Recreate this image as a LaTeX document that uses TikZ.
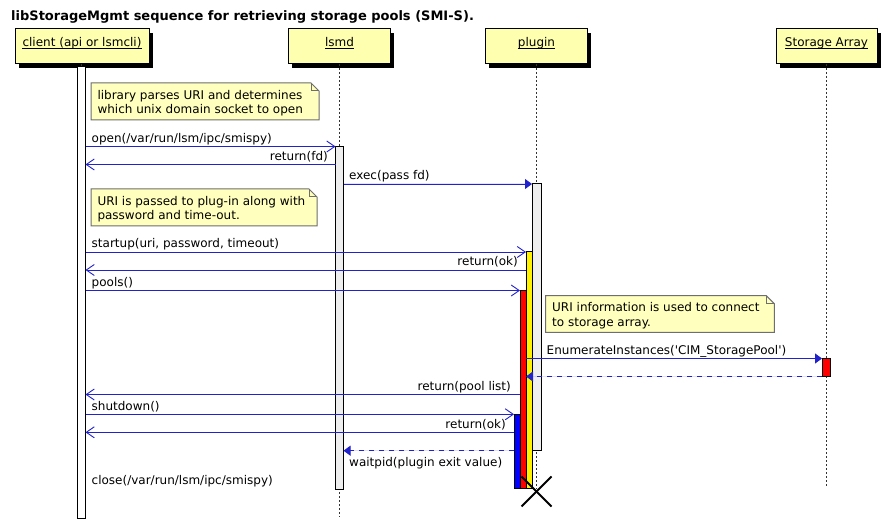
\documentclass[tikz,border=0pt]{standalone}
\usepackage{fontspec}
\setmainfont{DejaVu Sans}
\usetikzlibrary{arrows.meta}
\definecolor{msgblue}{RGB}{34,34,204}
\definecolor{partfill}{RGB}{255,255,176}
\definecolor{notefill}{RGB}{255,255,190}
\definecolor{notedraw}{RGB}{110,110,110}
\definecolor{actgray}{RGB}{238,238,238}
\tikzset{
  lbl/.style={inner sep=0pt, font=\fontsize{12bp}{14.5bp}\selectfont},
  titlelbl/.style={inner sep=0pt, font=\bfseries\fontsize{13bp}{15bp}\selectfont},
  msg/.style={draw=msgblue, line width=0.9bp},
  openhead/.style={-{Straight Barb[length=8bp,width=11bp,line width=0.9bp]}},
  fillhead/.style={-{Triangle[length=7bp,width=10bp]}},
  dashmsg/.style={dash pattern=on 5bp off 5bp},
  partbox/.style={draw=black, fill=partfill, line width=1bp},
  partshadow/.style={fill=black},
  lifeline/.style={draw=black!80, line width=0.8bp, dash pattern=on 2bp off 2bp},
  actbar/.style={draw=black, line width=1bp},
  notebox/.style={draw=notedraw, fill=notefill, line width=1bp},
  ulinepart/.style={draw=black, line width=0.8bp},
  killmark/.style={draw=black, line width=2bp}
}
\newcommand\notebg[4]{% x1,y1,x2,y2
  \path[notebox] (#1,#2) -- ({#3-8},#2) -- (#3,{#2+8}) -- (#3,#4) -- (#1,#4) -- cycle;
  \draw[notebox, fill=none] ({#3-8},#2) -- ({#3-8},{#2+8}) -- (#3,{#2+8});
}
\newcommand\partic[6]{% name, x1, x2, centre x, text, (unused)
  \fill[partshadow] ({#2+4},33) rectangle ({#3+4},68);
  \path[partbox] (#2,29) rectangle (#3,64);
  \node[lbl, anchor=base] (#1) at (#4,47) {#5};
  \draw[ulinepart] ([yshift=-1.7bp]#1.base west) -- ([yshift=-1.7bp]#1.base east);
}
\begin{document}
\begin{tikzpicture}[x=1bp,y=-1bp]
\useasboundingbox (0,0) rectangle (888,523);
\fill[white] (0,0) rectangle (888,523);

% title
\node[titlelbl, anchor=base west] (title) at (11,21) {libStorageMgmt sequence for retrieving storage pools (SMI-S).};

% participants
\partic{client}{15}{149}{82}{client (api or lsmcli)\ }{}
\partic{lsmd}{288}{390}{339.5}{lsmd}{}
\partic{plugin}{485}{587}{536.5}{plugin}{}
\partic{storage}{776}{877}{826.5}{Storage Array\ }{}

% lifelines
\coordinate (cltop) at (81.5,64);  \coordinate (clbot) at (81.5,518);
\coordinate (lstop) at (339.5,64); \coordinate (lsbot) at (339.5,517);
\coordinate (pltop) at (536.5,64); \coordinate (plbot) at (536.5,489);
\coordinate (sttop) at (826.5,64); \coordinate (stbot) at (826.5,488);
\draw[lifeline] (cltop) -- (clbot);
\draw[lifeline] (lstop) -- (lsbot);
\draw[lifeline] (pltop) -- (plbot);
\draw[lifeline] (sttop) -- (stbot);

% notes
\notebg{91}{83}{319}{120}
\node[lbl, anchor=base west] (n1a) at (97.3,99.3) {library parses URI and determines};
\node[lbl, anchor=base west] (n1b) at (97.3,114) {which unix domain socket to open};
\notebg{91}{189}{317}{226}
\node[lbl, anchor=base west] (n2a) at (97.3,205.3) {URI is passed to plug-in along with};
\node[lbl, anchor=base west] (n2b) at (97.3,220) {password and time-out.};
\notebg{545.7}{295.7}{774.3}{332.3}
\node[lbl, anchor=base west] (n3a) at (552,312) {URI information is used to connect};
\node[lbl, anchor=base west] (n3b) at (552,326.7) {to storage array.};

% activation bars
\path[actbar, fill=white] (77.5,67) rectangle (85.5,518);
\path[actbar, fill=actgray] (335.5,147) rectangle (343.5,489);
\path[actbar, fill=actgray] (532,184) rectangle (541,450.7);
\path[actbar, fill=yellow] (526,252) rectangle (532,488);
\path[actbar, fill=red] (520,290.5) rectangle (526,488);
\path[actbar, fill=blue] (514,414.3) rectangle (520,488);
\path[actbar, fill=red] (822,358.5) rectangle (830.5,376.5);

% messages
\coordinate (m1a) at (85.5,146.5); \coordinate (m1b) at (335.5,146.5);
\draw[msg, openhead] (m1a) -- (m1b);
\node[lbl, anchor=base west] (m1l) at (91.5,142.5) {open(/var/run/lsm/ipc/smispy)};

\coordinate (m2a) at (335.5,164.5); \coordinate (m2b) at (85.5,164.5);
\draw[msg, openhead] (m2a) -- (m2b);
\node[lbl, anchor=base east] (m2l) at (328,160.5) {return(fd)};

\coordinate (m3a) at (343.5,184); \coordinate (m3b) at (532,184);
\draw[msg, fillhead, fill=msgblue] (m3a) -- (m3b);
\node[lbl, anchor=base west] (m3l) at (349,180) {exec(pass fd)};

\coordinate (m4a) at (85.5,252); \coordinate (m4b) at (526,252);
\draw[msg, openhead] (m4a) -- (m4b);
\node[lbl, anchor=base west] (m4l) at (91.5,248) {startup(uri, password, timeout)};

\coordinate (m5a) at (526,270); \coordinate (m5b) at (85.5,270);
\draw[msg, openhead] (m5a) -- (m5b);
\node[lbl, anchor=base east] (m5l) at (518,266) {return(ok)};

\coordinate (m6a) at (85.5,290.5); \coordinate (m6b) at (520,290.5);
\draw[msg, openhead] (m6a) -- (m6b);
\node[lbl, anchor=base west] (m6l) at (91.5,286.5) {pools()};

\coordinate (m7a) at (526,358.5); \coordinate (m7b) at (822,358.5);
\draw[msg, fillhead, fill=msgblue] (m7a) -- (m7b);
\node[lbl, anchor=base west] (m7l) at (546.5,354.5) {EnumerateInstances(\textquotesingle CIM\_StoragePool\textquotesingle)};

\coordinate (m8a) at (822,376.5); \coordinate (m8b) at (526,376.5);
\draw[msg, dashmsg, fillhead, fill=msgblue] (m8a) -- (m8b);

\coordinate (m9a) at (520,394.5); \coordinate (m9b) at (85.5,394.5);
\draw[msg, openhead] (m9a) -- (m9b);
\node[lbl, anchor=base east] (m9l) at (511,390.5) {return(pool list)};

\coordinate (m10a) at (85.5,414.3); \coordinate (m10b) at (514,414.3);
\draw[msg, openhead] (m10a) -- (m10b);
\node[lbl, anchor=base west] (m10l) at (91.5,410.3) {shutdown()};

\coordinate (m11a) at (514,432.3); \coordinate (m11b) at (85.5,432.3);
\draw[msg, openhead] (m11a) -- (m11b);
\node[lbl, anchor=base east] (m11l) at (506,428.3) {return(ok)};

\coordinate (m12a) at (514,450.7); \coordinate (m12b) at (343.5,450.7);
\draw[msg, dashmsg, fillhead, fill=msgblue] (m12a) -- (m12b);

\node[lbl, anchor=base west] (m13l) at (349,466) {waitpid(plugin exit value)};
\node[lbl, anchor=base west] (m14l) at (91.5,484) {close(/var/run/lsm/ipc/smispy)};

% destroy mark
\coordinate (xc) at (536.5,491.5);
\draw[killmark] ([shift={(-15bp,-15bp)}]xc) -- ([shift={(15bp,15bp)}]xc);
\draw[killmark] ([shift={(-15bp,15bp)}]xc) -- ([shift={(15bp,-15bp)}]xc);
\end{tikzpicture}
\end{document}
